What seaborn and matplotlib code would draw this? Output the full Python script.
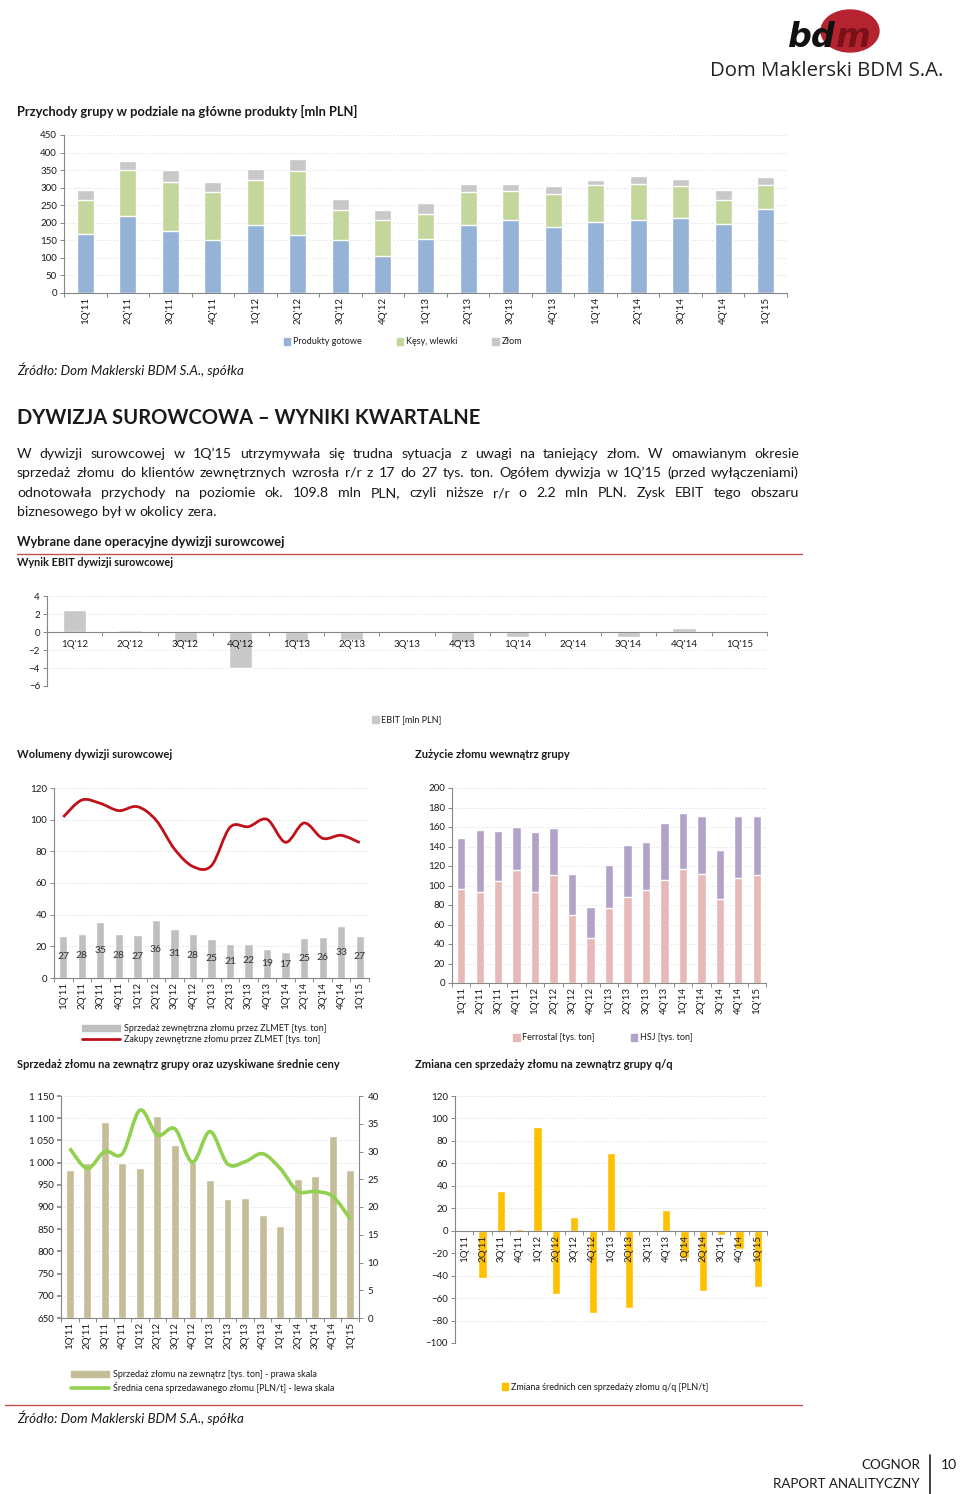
import numpy as np
import pandas as pd
import matplotlib
matplotlib.use("Agg")
import matplotlib.pyplot as plt
import seaborn as sns
from matplotlib.patches import Patch, PathPatch, Ellipse
from matplotlib.lines import Line2D
from matplotlib.path import Path

# ---------------- data ----------------
quarters = ["1Q'11", "2Q'11", "3Q'11", "4Q'11", "1Q'12", "2Q'12", "3Q'12", "4Q'12",
            "1Q'13", "2Q'13", "3Q'13", "4Q'13", "1Q'14", "2Q'14", "3Q'14", "4Q'14", "1Q'15"]

produkty_gotowe = [168, 218, 178, 151, 194, 166, 150, 105, 154, 193, 208, 187, 202, 207, 215, 196, 240]
kesy_wlewki = [97, 132, 138, 136, 129, 181, 86, 102, 72, 96, 82, 96, 107, 104, 89, 68, 67]
zlom = [29, 27, 35, 30, 31, 35, 33, 28, 29, 22, 20, 21, 14, 21, 22, 29, 22]

ebit_quarters = quarters[4:]
ebit = [2.4, 0.2, -1.1, -4.0, -1.1, -0.85, 0.0, -1.1, -0.5, -0.05, -0.55, 0.45, 0.0]

sprzedaz_zlmet = [26.7, 27.9, 35.3, 27.9, 27.0, 36.4, 31.1, 28.1, 24.9, 21.4, 21.6, 18.6, 16.6, 25.1, 25.6, 32.8, 26.6]
zakupy_zlmet = [101.7, 112.4, 110.3, 105.7, 108.2, 99.8, 81.5, 70.4, 71.0, 95.2, 95.6, 100.2, 85.7, 97.9, 88.2, 90.1, 85.5]

ferrostal = [96.2, 93.8, 104.5, 115.8, 93.2, 111.0, 69.9, 46.6, 76.7, 88.7, 94.9, 105.5, 116.8, 112.0, 86.3, 107.5, 111.0]
hsj = [52.4, 63.0, 51.7, 43.8, 61.6, 47.9, 41.7, 31.1, 44.2, 53.1, 49.3, 58.5, 57.2, 59.2, 49.7, 63.7, 60.2]

sprzedaz_zew = sprzedaz_zlmet
srednia_cena = [1032, 987, 1025, 1020, 1118, 1062, 1076, 1001, 1070, 997, 1002, 1020, 987, 936, 935, 924, 873]

zmiana_cen = [0, -42.5, 35.3, 1.8, 92.4, -56.7, 12.5, -73.7, 69.2, -68.6, 0, 18.7, -24, -53.5, -3.9, -16, -50.5]

# ---------------- style ----------------
sns.set_theme(style="white")
plt.rcParams["font.family"] = ["Lato", "DejaVu Sans"]
plt.rcParams["axes.edgecolor"] = "#868686"
plt.rcParams["axes.axisbelow"] = False
plt.rcParams["text.color"] = "#1a1a1a"
plt.rcParams["xtick.color"] = "#1a1a1a"
plt.rcParams["ytick.color"] = "#1a1a1a"

W, H = 960, 1494
fig = plt.figure(figsize=(W / 100, H / 100), dpi=100)
fig.patch.set_facecolor("white")


def rect(x0, x1, yt, yb):
    return [x0 / W, 1 - yb / H, (x1 - x0) / W, (yb - yt) / H]


def fx(x):
    return x / W


def fy(y):
    return 1 - y / H


GRID = "#d4d4d4"
AXC = "#868686"


def hgrid(ax, ticks):
    for t in ticks:
        ax.axhline(t, ls=(0, (1, 2)), color=GRID, lw=0.7, zorder=0.3)


def style(ax, n, ylim, yticks, rot=90, grid=True):
    ax.set_xlim(-0.5, n - 0.5)
    ax.set_ylim(*ylim)
    ax.set_yticks(yticks)
    for s in ["top", "right"]:
        ax.spines[s].set_visible(False)
    for s in ["left", "bottom"]:
        ax.spines[s].set_color(AXC)
        ax.spines[s].set_linewidth(0.8)
    ax.tick_params(axis="y", length=3, width=0.7, color=AXC, labelsize=7, pad=2, left=True)
    ax.tick_params(axis="x", which="major", length=0, labelsize=7, rotation=rot, pad=3)
    ax.set_xticks(np.arange(n + 1) - 0.5, minor=True)
    ax.tick_params(axis="x", which="minor", length=3, width=0.7, color=AXC, bottom=True)
    ax.grid(False)
    ax.set_axisbelow(False)
    if grid:
        hgrid(ax, yticks)
    ax.set_xlabel("")
    ax.set_ylabel("")


def smooth_path(xs, ys):
    pts = np.column_stack([xs, ys]).astype(float)
    n = len(pts)
    verts = [pts[0]]
    codes = [Path.MOVETO]
    for i in range(n - 1):
        p0 = pts[i - 1] if i > 0 else pts[i]
        p1 = pts[i]
        p2 = pts[i + 1]
        p3 = pts[i + 2] if i + 2 < n else pts[i + 1]
        verts += [p1 + (p2 - p0) / 6, p2 - (p3 - p1) / 6, p2]
        codes += [Path.CURVE4] * 3
    return Path(verts, codes)


n = len(quarters)
LEG_FS = 6.5
SUB_FS = 8.0

# ---------------- logo / header ----------------
fig.add_artist(Ellipse((fx(850), fy(31)), 58 / W, 42 / H, transform=fig.transFigure,
                       color="#b5232f", zorder=1))
fig.text(fx(788), fy(47), "bd", fontsize=24, fontweight="bold", style="italic",
         color="#111111", va="baseline", family=["DejaVu Sans"])
fig.text(fx(836), fy(47), "m", fontsize=24, fontweight="bold", style="italic",
         color="#7a1018", va="baseline", family=["DejaVu Sans"], zorder=2)
fig.text(fx(943), fy(71), "Dom Maklerski BDM S.A.", fontsize=14.7, ha="right", va="center",
         color="#222222", family=["Open Sans", "DejaVu Sans"])

# ---------------- chart 1 ----------------
fig.text(fx(17), fy(111), "Przychody grupy w podziale na główne produkty [mln PLN]",
         fontsize=9.3, fontweight="bold", va="center")
ax1 = fig.add_axes(rect(64, 787, 135, 293))
df1 = pd.DataFrame({"q": quarters, "p": produkty_gotowe, "k": kesy_wlewki, "z": zlom})
df1["pk"] = df1["p"] + df1["k"]
df1["pkz"] = df1["pk"] + df1["z"]
C_BLUE, C_GREEN, C_GRAY = "#95b3d7", "#c3d69b", "#c8c8c8"
for col, c in [("pkz", C_GRAY), ("pk", C_GREEN), ("p", C_BLUE)]:
    sns.barplot(data=df1, x="q", y=col, order=quarters, color=c, width=0.4,
                saturation=1, errorbar=None, ax=ax1)
style(ax1, n, (0, 450), list(range(0, 451, 50)))
fig.legend(handles=[Patch(color=C_BLUE, label="Produkty gotowe"),
                    Patch(color=C_GREEN, label="Kęsy, wlewki"),
                    Patch(color=C_GRAY, label="Złom")],
           loc="center", bbox_to_anchor=(fx(403), fy(342)), ncol=3, frameon=False,
           fontsize=LEG_FS, handlelength=0.7, handleheight=0.7, handletextpad=0.3,
           columnspacing=3.9)
fig.text(fx(17), fy(370), "Źródło: Dom Maklerski BDM S.A., spółka", fontsize=9.6,
         style="italic", va="center")

# ---------------- heading + paragraph ----------------
fig.text(fx(17), fy(418), "DYWIZJA SUROWCOWA – WYNIKI KWARTALNE", fontsize=14.5,
         fontweight="bold", va="center")

para = [
    "W dywizji surowcowej w 1Q’15 utrzymywała się trudna sytuacja z uwagi na taniejący złom. W omawianym okresie",
    "sprzedaż złomu do klientów zewnętrznych wzrosła r/r z 17 do 27 tys. ton. Ogółem dywizja w 1Q’15 (przed wyłączeniami)",
    "odnotowała przychody na poziomie ok. 109.8 mln PLN, czyli niższe r/r o 2.2 mln PLN. Zysk EBIT tego obszaru",
    "biznesowego był w okolicy zera.",
]
para_y = [454, 473, 493, 512]
renderer = fig.canvas.get_renderer()
PFS = 10.2
sp = fig.text(0, 0, "a a", fontsize=PFS)
sp2 = fig.text(0, 0, "aa", fontsize=PFS)
space_w = sp.get_window_extent(renderer).width - sp2.get_window_extent(renderer).width
sp.remove()
sp2.remove()
for li, (line, y) in enumerate(zip(para, para_y)):
    words = line.split(" ")
    ts = [fig.text(0, fy(y), w, fontsize=PFS, va="center") for w in words]
    widths = [t.get_window_extent(renderer).width for t in ts]
    if li < len(para) - 1:
        gap = (799 - 17 - sum(widths)) / (len(words) - 1)
    else:
        gap = space_w
    x = 17
    for t, w in zip(ts, widths):
        t.set_x(fx(x))
        x += w + gap

# ---------------- EBIT ----------------
fig.text(fx(17), fy(542), "Wybrane dane operacyjne dywizji surowcowej", fontsize=9.3,
         fontweight="bold", va="center")
fig.add_artist(Line2D([fx(17), fx(802)], [fy(554), fy(554)], color="#c0504d", lw=1,
                      transform=fig.transFigure))
fig.text(fx(17), fy(563), "Wynik EBIT dywizji surowcowej", fontsize=7.8,
         fontweight="bold", va="center")
ax2 = fig.add_axes(rect(47, 767, 596, 686))
df2 = pd.DataFrame({"q": ebit_quarters, "v": ebit})
sns.barplot(data=df2, x="q", y="v", order=ebit_quarters, color="#c8c8c8", width=0.42,
            saturation=1, errorbar=None, ax=ax2)
style(ax2, len(ebit_quarters), (-6, 4), [-6, -4, -2, 0, 2, 4], rot=0)
ax2.spines["bottom"].set_position(("data", 0))
ax2.tick_params(axis="x", which="major", pad=6)
fig.legend(handles=[Patch(color="#c8c8c8", label="EBIT [mln PLN]")], loc="center",
           bbox_to_anchor=(fx(407), fy(720)), frameon=False, fontsize=LEG_FS,
           handlelength=0.7, handleheight=0.7, handletextpad=0.3)

# ---------------- volumes ----------------
fig.text(fx(17), fy(755), "Wolumeny dywizji surowcowej", fontsize=SUB_FS, fontweight="bold",
         va="center")
ax3 = fig.add_axes(rect(54, 369, 788, 978))
df3 = pd.DataFrame({"q": quarters, "s": sprzedaz_zlmet, "z": zakupy_zlmet})
sns.barplot(data=df3, x="q", y="s", order=quarters, color="#bfbfbf", width=0.45,
            saturation=1, errorbar=None, ax=ax3)
ax3.add_patch(PathPatch(smooth_path(np.arange(n), zakupy_zlmet), fill=False,
                        ec="#c0101a", lw=2.0, zorder=4))
for i, v in enumerate(sprzedaz_zlmet):
    ax3.text(i, v / 2, f"{v:.0f}", ha="center", va="center", fontsize=7.5, color="#333333",
             zorder=5)
style(ax3, n, (0, 120), list(range(0, 121, 20)))
fig.legend(handles=[Patch(color="#bfbfbf", label="Sprzedaż zewnętrzna złomu przez ZLMET [tys. ton]"),
                    Line2D([], [], color="#c0101a", lw=2, label="Zakupy zewnętrzne złomu przez ZLMET [tys. ton]")],
           loc="upper left", bbox_to_anchor=(fx(74), fy(1016)), frameon=False,
           fontsize=LEG_FS, handlelength=4.2, handleheight=0.7, handletextpad=0.4,
           labelspacing=0.25)

# ---------------- consumption ----------------
fig.text(fx(415), fy(755), "Zużycie złomu wewnątrz grupy", fontsize=SUB_FS, fontweight="bold",
         va="center")
ax4 = fig.add_axes(rect(452, 766, 788, 983))
df4 = pd.DataFrame({"q": quarters, "f": ferrostal, "h": hsj})
df4["fh"] = df4["f"] + df4["h"]
C_PINK, C_PURP = "#e6b9b8", "#b3a2c7"
sns.barplot(data=df4, x="q", y="fh", order=quarters, color=C_PURP, width=0.45,
            saturation=1, errorbar=None, ax=ax4)
sns.barplot(data=df4, x="q", y="f", order=quarters, color=C_PINK, width=0.45,
            saturation=1, errorbar=None, ax=ax4)
style(ax4, n, (0, 200), list(range(0, 201, 20)))
fig.legend(handles=[Patch(color=C_PINK, label="Ferrostal [tys. ton]"),
                    Patch(color=C_PURP, label="HSJ [tys. ton]")],
           loc="center", bbox_to_anchor=(fx(603), fy(1038)), ncol=2, frameon=False,
           fontsize=LEG_FS, handlelength=0.7, handleheight=0.7, handletextpad=0.3,
           columnspacing=4.0)

# ---------------- sales + price ----------------
fig.text(fx(17), fy(1064), "Sprzedaż złomu na zewnątrz grupy oraz uzyskiwane średnie ceny",
         fontsize=SUB_FS, fontweight="bold", va="center")
ax5 = fig.add_axes(rect(61, 359, 1096, 1318))
df5 = pd.DataFrame({"q": quarters, "s": sprzedaz_zew, "c": srednia_cena})
sns.barplot(data=df5, x="q", y="s", order=quarters, color="#c4bd97", width=0.45,
            saturation=1, errorbar=None, ax=ax5)
style(ax5, n, (0, 40), list(range(0, 41, 5)), grid=False)
left_ticks = list(range(650, 1151, 50))
hgrid(ax5, [(v - 650) * 40 / 500 for v in left_ticks])
ax5b = ax5.twinx()
ax5b.add_patch(PathPatch(smooth_path(np.arange(n), srednia_cena), fill=False,
                         ec="#92d050", lw=2.6, zorder=4))
ax5b.set_ylim(650, 1150)
ax5b.set_xlim(-0.5, n - 0.5)
ax5b.grid(False)
ax5b.set_ylabel("")
ax5.yaxis.tick_right()
ax5.yaxis.set_label_position("right")
ax5.spines["right"].set_visible(True)
ax5.spines["right"].set_color(AXC)
ax5.spines["right"].set_linewidth(0.8)
ax5.spines["left"].set_visible(False)
ax5.tick_params(axis="y", right=True, left=False, labelright=True, labelleft=False,
                length=3, color=AXC, labelsize=7, pad=3)
ax5b.yaxis.tick_left()
ax5b.yaxis.set_label_position("left")
ax5b.set_yticks(left_ticks)
ax5b.set_yticklabels([f"{v:,}".replace(",", " ") for v in left_ticks])
ax5b.tick_params(axis="y", left=True, right=False, labelleft=True, labelright=False,
                 length=3, color=AXC, labelsize=7, pad=2)
for s in ["top", "right", "bottom"]:
    ax5b.spines[s].set_visible(False)
ax5b.spines["left"].set_visible(True)
ax5b.spines["left"].set_color(AXC)
ax5b.spines["left"].set_linewidth(0.8)
fig.legend(handles=[Patch(color="#c4bd97", label="Sprzedaż złomu na zewnątrz [tys. ton] - prawa skala"),
                    Line2D([], [], color="#92d050", lw=2.6, label="Średnia cena sprzedawanego złomu [PLN/t] - lewa skala")],
           loc="upper left", bbox_to_anchor=(fx(63), fy(1362)), frameon=False,
           fontsize=LEG_FS, handlelength=4.2, handleheight=0.7, handletextpad=0.4,
           labelspacing=0.35)

# ---------------- price change ----------------
fig.text(fx(415), fy(1064), "Zmiana cen sprzedaży złomu na zewnątrz grupy q/q",
         fontsize=SUB_FS, fontweight="bold", va="center")
ax6 = fig.add_axes(rect(455, 767, 1096, 1343))
df6 = pd.DataFrame({"q": quarters, "v": zmiana_cen})
sns.barplot(data=df6, x="q", y="v", order=quarters, color="#ffc000", width=0.45,
            saturation=1, errorbar=None, ax=ax6)
style(ax6, n, (-100, 120), list(range(-100, 121, 20)))
ax6.spines["bottom"].set_position(("data", 0))
fig.legend(handles=[Patch(color="#ffc000", label="Zmiana średnich cen sprzedaży złomu q/q [PLN/t]")],
           loc="center", bbox_to_anchor=(fx(605), fy(1387)), frameon=False,
           fontsize=LEG_FS, handlelength=0.7, handleheight=0.7, handletextpad=0.3)

# ---------------- footer ----------------
fig.add_artist(Line2D([fx(5), fx(802)], [fy(1405), fy(1405)], color="#c0504d", lw=1,
                      transform=fig.transFigure))
fig.text(fx(17), fy(1418), "Źródło: Dom Maklerski BDM S.A., spółka", fontsize=9.6,
         style="italic", va="center")
fig.text(fx(920), fy(1465), "COGNOR", fontsize=9.6, ha="right", va="center")
fig.text(fx(920), fy(1484), "RAPORT ANALITYCZNY", fontsize=9.6, ha="right", va="center")
fig.add_artist(Line2D([fx(930), fx(930)], [fy(1455), fy(1494)], color="#222222", lw=1.2,
                      transform=fig.transFigure))
fig.text(fx(941), fy(1465), "10", fontsize=10, ha="left", va="center")

fig.savefig("out.png", dpi=100, facecolor="white")
